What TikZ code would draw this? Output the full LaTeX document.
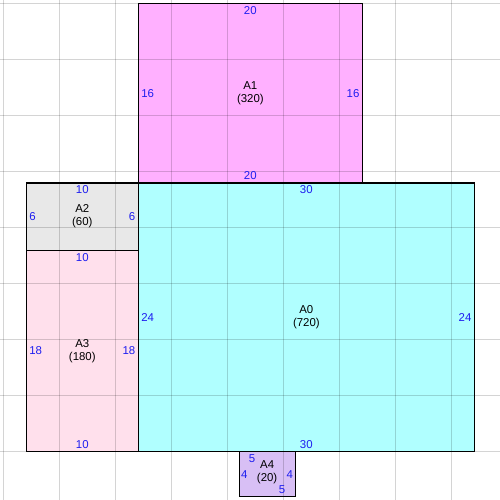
\documentclass[tikz,border=0pt]{standalone}
\usepackage{fontspec}
\setmainfont{Liberation Sans}
\usetikzlibrary{positioning}
\definecolor{fillAzero}{RGB}{176,255,255}
\definecolor{fillAone}{RGB}{255,176,255}
\definecolor{fillAtwo}{RGB}{232,232,232}
\definecolor{fillAthree}{RGB}{255,224,236}
\definecolor{fillAfour}{RGB}{216,191,245}
\definecolor{numblue}{RGB}{30,30,240}
\def\unitlen{0.224cm}

\begin{document}
\begin{tikzpicture}[
    x = \unitlen, y = \unitlen,
    font = \fontsize{6.5}{7.4}\selectfont,
    part/.style = {draw, line width=0.6pt, inner sep=0pt,
        outer sep=0pt, anchor=north west},
    gridline/.style = {black, opacity=0.17, line width=0.55pt},
    num/.style = {text=numblue, inner sep=1.5pt},
    title/.style = {align=center, inner sep=0pt}
  ]
  \useasboundingbox (-12.35,-28.30) rectangle (32.29,16.34);

  \node[part, fill=fillAone, minimum width=20*\unitlen, minimum height=16*\unitlen] (A1) at (0,16) {};
  \node[part, fill=fillAzero, minimum width=30*\unitlen, minimum height=24*\unitlen] (A0) at (0,0) {};
  \node[part, fill=fillAtwo, minimum width=10*\unitlen, minimum height=6*\unitlen] (A2) at (-10,0) {};
  \node[part, fill=fillAthree, minimum width=10*\unitlen, minimum height=18*\unitlen] (A3) at (-10,-6) {};
  \node[part, fill=fillAfour, minimum width=5*\unitlen, minimum height=4*\unitlen] (A4) at (9,-24) {};

  % grid
  \foreach \x in {-12,-7,...,28}
  \draw[gridline] (\x,-28.30) -- (\x,16.34);
  \foreach \y in {-24,-19,...,16}
  \draw[gridline] (-12.35,\y) -- (32.29,\y);

  \foreach \p/\t in {A0/720, A1/320, A2/60, A3/180}
  \node[title] at (\p.center) {\p\\(\t)};
  \node[title] at ([yshift=1pt]A4.center) {A4\\(20)};

  \node[num, below] at (A1.north) {20};
  \node[num, above] at (A1.south) {20};
  \node[num, right] at (A1.west) {16};
  \node[num, left] at (A1.east) {16};

  \node[num, below] at (A0.north) {30};
  \node[num, above] at (A0.south) {30};
  \node[num, right] at (A0.west) {24};
  \node[num, left] at (A0.east) {24};

  \node[num, below] at (A2.north) {10};
  \node[num, right] at (A2.west) {6};
  \node[num, left] at (A2.east) {6};

  \node[num, below] at (A3.north) {10};
  \node[num, above] at (A3.south) {10};
  \node[num, right] at (A3.west) {18};
  \node[num, left] at (A3.east) {18};

  \node[num, below] at ([xshift=-0.3cm]A4.north) {5};
  \node[num, above] at ([xshift=0.3cm]A4.south) {5};
  \node[num, right, inner sep=1pt] at (A4.west) {4};
  \node[num, left, inner sep=1pt] at (A4.east) {4};
\end{tikzpicture}
\end{document}
